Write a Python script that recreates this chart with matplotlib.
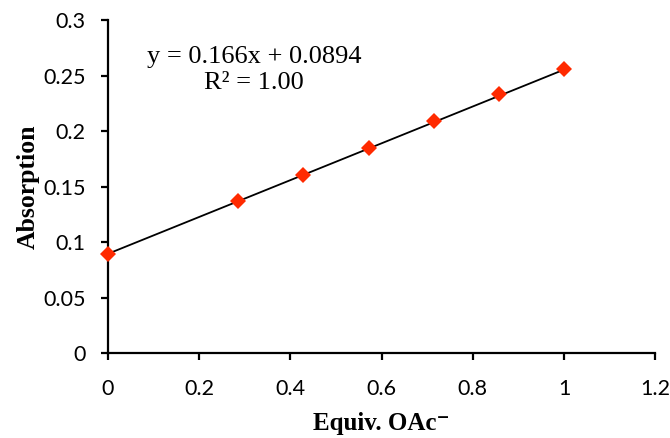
import matplotlib.pyplot as plt
import numpy as np

# titration data: equivalents of acetate vs absorption
equiv = [0, 2/7, 3/7, 4/7, 5/7, 6/7, 1.0]
absorption = [0.089, 0.137, 0.160, 0.185, 0.209, 0.233, 0.256]

# linear trendline
slope = 0.166
intercept = 0.0894
r2 = 1.00

x_ticks = [0, 0.2, 0.4, 0.6, 0.8, 1, 1.2]
y_ticks = [0, 0.05, 0.1, 0.15, 0.2, 0.25, 0.3]

serif = ['Liberation Serif', 'DejaVu Serif']
tick_font = 'Lato'

fig = plt.figure(figsize=(6.7, 4.38), dpi=100)
ax = fig.add_axes([0.161, 0.194, 0.817, 0.760])

xs = np.array([equiv[0], equiv[-1]])
ax.plot(xs, slope * xs + intercept, color='black', linewidth=1.3, zorder=2)
ax.plot(equiv, absorption, linestyle='none', marker='D', markersize=8.5,
        color='#ff2a00', markeredgewidth=0, zorder=3, clip_on=False)

ax.set_xlim(0, 1.2)
ax.set_ylim(0, 0.3)
ax.set_xticks(x_ticks)
ax.set_xticklabels([f'{v:g}' for v in x_ticks])
ax.set_yticks(y_ticks)
ax.set_yticklabels([f'{v:g}' for v in y_ticks])

for side in ['top', 'right']:
    ax.spines[side].set_visible(False)
for side in ['left', 'bottom']:
    ax.spines[side].set_linewidth(1.6)

ax.tick_params(axis='y', direction='out', length=5, width=1.6, pad=11)
ax.tick_params(axis='x', direction='out', length=5, width=1.6, pad=14)
for lab in ax.get_xticklabels() + ax.get_yticklabels():
    lab.set_family(tick_font)
    lab.set_fontsize(15.5)

ax.set_xlabel('Equiv. OAc\u207b', family=serif, fontsize=18,
              fontweight='bold', labelpad=9)
ax.set_ylabel('Absorption', family=serif, fontsize=18.5,
              fontweight='bold')
ax.yaxis.set_label_coords(-0.125, 0.5)

ax.text(0.32, 0.255, f'y = {slope}x + {intercept}\nR\u00b2 = {r2:.2f}',
        family=serif, fontsize=19, ha='center', va='center',
        linespacing=1.25)

fig.savefig('out.png', dpi=100)
